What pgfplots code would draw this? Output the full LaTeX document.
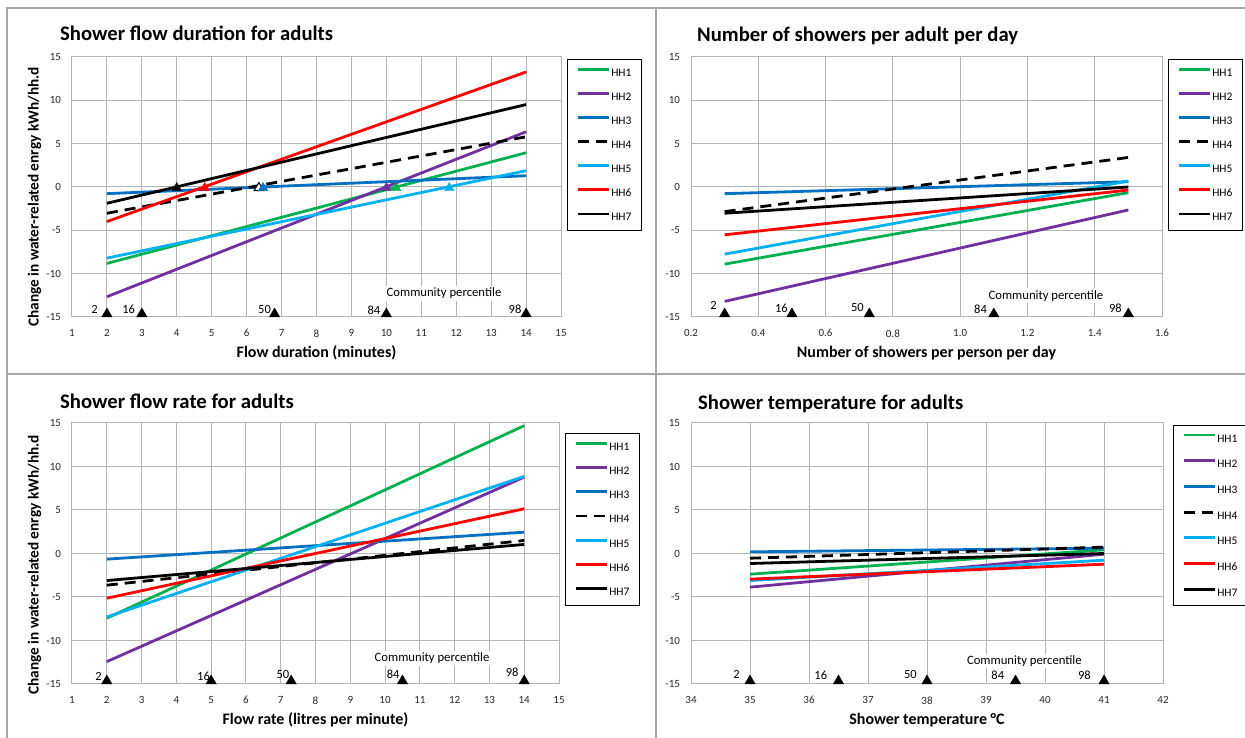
\documentclass[border=0pt]{standalone}
\usepackage{pgfplots}
\pgfplotsset{compat=1.18}
\usepackage{fontspec}
\setmainfont{Carlito}
\definecolor{cHa}{HTML}{00B050}
\definecolor{cHb}{HTML}{7030A0}
\definecolor{cHc}{HTML}{0070C0}
\definecolor{cHe}{HTML}{00B0F0}
\definecolor{cHf}{HTML}{FF0000}
\definecolor{gridc}{HTML}{B4B4B4}
\definecolor{framec}{HTML}{A6A6A6}
\newcommand{\tf}{\bfseries\fontsize{20.7}{24}\selectfont}
\newcommand{\lf}{\bfseries\fontsize{16}{19}\selectfont}
\newcommand{\yf}{\bfseries\fontsize{15.3}{18}\selectfont}
\newcommand{\pf}{\fontsize{12.5}{14}\selectfont}
\newcommand{\cf}{\fontsize{12.7}{14}\selectfont}
\pgfplotsset{
  panel/.style={
    scale only axis, clip=false,
    ymin=-15, ymax=15, ytick={-15,-10,-5,0,5,10,15},
    yticklabels={-15,-10,-5,0,5,10,15},
    grid=major, major grid style={draw=gridc, line width=1pt},
    axis line style={draw=gridc, line width=1pt},
    major tick length=0pt,
    tick label style={font=\fontsize{11}{13}\selectfont, text=black!85},
    xticklabel style={yshift=-9pt},
    yticklabel style={xshift=-7.5pt},
    xlabel style={font=\lf, at={(axis description cs:0.5,0)}, anchor=base, yshift=-41pt},
    legend style={at={(1,1)}, anchor=north west, xshift=6pt, yshift=-2pt,
      draw=black, fill=white,
      font=\fontsize{11.5}{13}\selectfont, inner xsep=9pt, inner ysep=8.5pt,
      row sep=14.7pt,
      nodes={inner sep=1pt, text height=7pt, text depth=0pt}},
    every axis legend/.append style={line width=0.9pt},
    legend cell align=left,
    legend image code/.code={\draw[##1, line width=2.8pt] (0pt,3.5pt) -- (31pt,3.5pt);},
  },
  hh/.style={line width=2.8pt},
  hhd/.style={line width=2.8pt, black, dash pattern=on 11pt off 7pt},
  pct/.style={only marks, mark=triangle*, mark size=6pt, black, forget plot, mark options={yshift=3pt}},
  zm/.style={only marks, mark=triangle*, mark size=5.5pt, forget plot, mark options={yshift=-1pt}},
}
\begin{document}
\begin{tikzpicture}
\path[use as bounding box] (0pt,0pt) rectangle (1245pt,738pt);
\draw[framec, line width=1.3pt] (7pt,0pt) -- (7pt,730pt) -- (1245pt,730pt);
\draw[framec, line width=1.6pt] (656pt,730pt) -- (656pt,0pt);
\draw[framec, line width=1.3pt] (7pt,364pt) -- (1245pt,364pt);

% titles
\node[anchor=base west, inner sep=0pt, font=\tf] at (60pt,697.5pt) {Shower flow duration for adults};
\node[anchor=base west, inner sep=0pt, font=\tf] at (697pt,696.3pt) {Number of showers per adult per day};
\node[anchor=base west, inner sep=0pt, font=\tf] at (60pt,329.7pt) {Shower flow rate for adults};
\node[anchor=base west, inner sep=0pt, font=\tf] at (698pt,328pt) {Shower temperature for adults};
% y labels
\node[rotate=90, anchor=base, inner sep=0pt, font=\yf] at (38.5pt,541pt) {Change in water-related enrgy kWh/hh.d};
\node[rotate=90, anchor=base, inner sep=0pt, font=\yf] at (38.5pt,173pt) {Change in water-related enrgy kWh/hh.d};

% Panel 1
\begin{axis}[panel, at={(72pt,421pt)}, anchor=south west, width=489pt, height=260pt,
  xmin=1, xmax=15, xtick={1,2,...,15}, xticklabels={1,2,3,4,5,6,7,8,9,10,11,12,13,14,15},
  xlabel={Flow duration (minutes)}]
\addplot[hh, cHa] coordinates {(2,-8.82) (14,3.95)};
\addplot[hh, cHb] coordinates {(2,-12.66) (14,6.37)};
\addplot[hh, cHc] coordinates {(2,-0.77) (14,1.30)};
\addplot[hhd] coordinates {(2,-3.03) (14,5.79)};
\addplot[hh, cHe] coordinates {(2,-8.21) (14,1.88)};
\addplot[hh, cHf] coordinates {(2,-3.99) (14,13.27)};
\addplot[hh, black] coordinates {(2,-1.88) (14,9.51)};
\legend{HH1,HH2,HH3,HH4,HH5,HH6,HH7}
\addplot[zm, black] coordinates {(4.0,0)};
\addplot[zm, cHf] coordinates {(4.8,0)};
\addplot[zm, mark options={fill=white, draw=black, line width=1pt, yshift=-1pt}] coordinates {(6.35,0)};
\addplot[zm, cHc] coordinates {(6.47,0)};
\addplot[zm, cHb] coordinates {(10.0,0)};
\addplot[zm, cHa] coordinates {(10.28,0)};
\addplot[zm, cHe] coordinates {(11.8,0)};
\addplot[pct] coordinates {(2,-15) (3,-15) (6.8,-15) (10,-15) (14,-15)};
\node[anchor=east, inner sep=0pt, font=\pf] at (axis cs:1.74,-14.08) {2};
\node[anchor=east, inner sep=0pt, font=\pf] at (axis cs:2.81,-14.15) {16};
\node[anchor=east, inner sep=0pt, font=\pf] at (axis cs:6.70,-14.15) {50};
\node[anchor=east, inner sep=0pt, font=\pf] at (axis cs:9.83,-14.27) {84};
\node[anchor=east, inner sep=0pt, font=\pf] at (axis cs:13.87,-14.15) {98};
\node[fill=white, inner sep=2pt, font=\cf] at (axis cs:11.65,-12.3) {Community percentile};
\end{axis}

% Panel 2
\begin{axis}[panel, at={(691pt,421pt)}, anchor=south west, width=471pt, height=260pt,
  xmin=0.2, xmax=1.6, xtick={0.2,0.4,0.6,0.8,1.0,1.2,1.4,1.6},
  xticklabels={0.2,0.4,0.6,0.8,1.0,1.2,1.4,1.6},
  xlabel={Number of showers per person per day}]
\addplot[hh, cHa] coordinates {(0.3,-8.9) (1.5,-0.65)};
\addplot[hh, cHb] coordinates {(0.3,-13.2) (1.5,-2.65)};
\addplot[hh, cHc] coordinates {(0.3,-0.77) (1.5,0.61)};
\addplot[hhd] coordinates {(0.3,-2.84) (1.5,3.41)};
\addplot[hh, cHe] coordinates {(0.3,-7.75) (1.5,0.69)};
\addplot[hh, cHf] coordinates {(0.3,-5.52) (1.5,-0.35)};
\addplot[hh, black] coordinates {(0.3,-3.03) (1.5,0.0)};
\legend{HH1,HH2,HH3,HH4,HH5,HH6,HH7}
\addplot[pct] coordinates {(0.3,-15) (0.5,-15) (0.73,-15) (1.1,-15) (1.5,-15)};
\node[anchor=east, inner sep=0pt, font=\pf] at (axis cs:0.277,-13.7) {2};
\node[anchor=east, inner sep=0pt, font=\pf] at (axis cs:0.488,-14.0) {16};
\node[anchor=east, inner sep=0pt, font=\pf] at (axis cs:0.714,-13.9) {50};
\node[anchor=east, inner sep=0pt, font=\pf] at (axis cs:1.08,-14.1) {84};
\node[anchor=east, inner sep=0pt, font=\pf] at (axis cs:1.481,-14.0) {98};
\node[fill=white, inner sep=2pt, font=\cf] at (axis cs:1.255,-12.55) {Community percentile};
\end{axis}

% Panel 3
\begin{axis}[panel, at={(72pt,54pt)}, anchor=south west, width=487pt, height=261pt,
  xmin=1, xmax=15, xtick={1,2,...,15}, xticklabels={1,2,3,4,5,6,7,8,9,10,11,12,13,14,15},
  xlabel={Flow rate (litres per minute)},
  legend style={yshift=-8pt, row sep=14.8pt}]
\addplot[hh, cHa] coordinates {(2,-7.44) (14,14.69)};
\addplot[hh, cHb] coordinates {(2,-12.43) (14,8.78)};
\addplot[hh, cHc] coordinates {(2,-0.65) (14,2.45)};
\addplot[hhd] coordinates {(2,-3.64) (14,1.50)};
\addplot[hh, cHe] coordinates {(2,-7.29) (14,8.86)};
\addplot[hh, cHf] coordinates {(2,-5.14) (14,5.14)};
\addplot[hh, black] coordinates {(2,-3.11) (14,1.04)};
\legend{HH1,HH2,HH3,HH4,HH5,HH6,HH7}
\addplot[pct] coordinates {(2,-15) (5,-15) (7.3,-15) (10.5,-15) (14,-15)};
\node[anchor=east, inner sep=0pt, font=\pf] at (axis cs:1.86,-14.08) {2};
\node[anchor=east, inner sep=0pt, font=\pf] at (axis cs:4.97,-14.08) {16};
\node[anchor=east, inner sep=0pt, font=\pf] at (axis cs:7.25,-13.96) {50};
\node[anchor=east, inner sep=0pt, font=\pf] at (axis cs:10.42,-13.85) {84};
\node[anchor=east, inner sep=0pt, font=\pf] at (axis cs:13.84,-13.69) {98};
\node[fill=white, inner sep=2pt, font=\cf] at (axis cs:11.35,-12.08) {Community percentile};
\end{axis}

% Panel 4
\begin{axis}[panel, at={(691pt,54pt)}, anchor=south west, width=472pt, height=261pt,
  xmin=34, xmax=42, xtick={34,35,...,42}, xticklabels={34,35,36,37,38,39,40,41,42},
  xlabel={Shower temperature °C},
  legend style={yshift=0pt, xshift=4pt, row sep=16.3pt, inner ysep=8.2pt}]
\addplot[hh, cHa] coordinates {(35,-2.38) (41,0.42)};
\addplot[hh, cHb] coordinates {(35,-3.87) (41,-0.08)};
\addplot[hh, cHc] coordinates {(35,0.19) (41,0.61)};
\addplot[hhd] coordinates {(35,-0.54) (41,0.73)};
\addplot[hh, cHe] coordinates {(35,-3.11) (41,-0.77)};
\addplot[hh, cHf] coordinates {(35,-2.95) (41,-1.23)};
\addplot[hh, black] coordinates {(35,-1.15) (41,0.0)};
\legend{HH1,HH2,HH3,HH4,HH5,HH6,HH7}
\addplot[pct] coordinates {(35,-15) (36.5,-15) (38,-15) (39.5,-15) (41,-15)};
\node[anchor=east, inner sep=0pt, font=\pf] at (axis cs:34.83,-13.85) {2};
\node[anchor=east, inner sep=0pt, font=\pf] at (axis cs:36.31,-13.96) {16};
\node[anchor=east, inner sep=0pt, font=\pf] at (axis cs:37.83,-13.96) {50};
\node[anchor=east, inner sep=0pt, font=\pf] at (axis cs:39.31,-13.96) {84};
\node[anchor=east, inner sep=0pt, font=\pf] at (axis cs:40.78,-13.96) {98};
\node[fill=white, inner sep=2pt, font=\cf] at (axis cs:39.65,-12.35) {Community percentile};
\end{axis}
\end{tikzpicture}
\end{document}
